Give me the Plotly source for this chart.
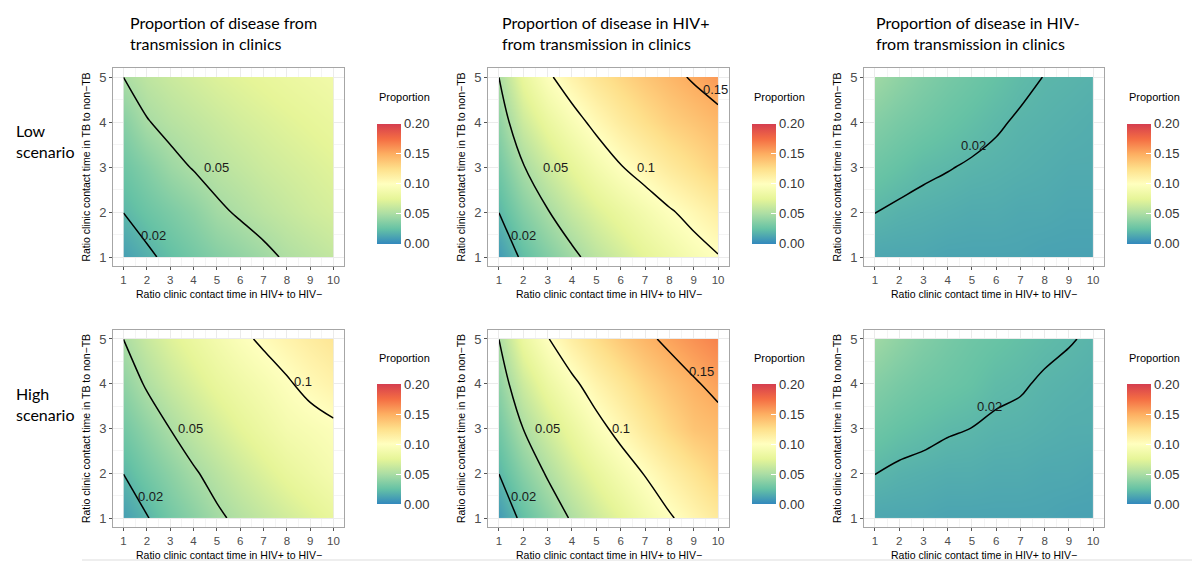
import plotly.graph_objects as go

# ---------------- data ----------------
x_vals = [1, 2, 3, 4, 5, 6, 7, 8, 9, 10]   # Ratio clinic contact time in HIV+ to HIV-
y_vals = [1, 2, 3, 4, 5]                    # Ratio clinic contact time in TB to non-TB

# rows: y = 1..5 ; columns: x = 1..10
low_all = [
    [0.010, 0.017, 0.024, 0.030, 0.036, 0.041, 0.046, 0.052, 0.056, 0.060],
    [0.0202, 0.027, 0.033, 0.039, 0.047, 0.052, 0.057, 0.061, 0.065, 0.068],
    [0.028, 0.036, 0.045, 0.051, 0.056, 0.060, 0.064, 0.067, 0.070, 0.073],
    [0.037, 0.049, 0.055, 0.059, 0.063, 0.067, 0.070, 0.073, 0.076, 0.079],
    [0.0501, 0.058, 0.063, 0.067, 0.071, 0.074, 0.077, 0.080, 0.083, 0.086],
]
low_hivpos = [
    [0.008, 0.023, 0.035, 0.046, 0.057, 0.066, 0.075, 0.083, 0.092, 0.099],
    [0.0202, 0.036, 0.049, 0.061, 0.071, 0.080, 0.089, 0.098, 0.106, 0.114],
    [0.030, 0.049, 0.064, 0.076, 0.088, 0.099, 0.108, 0.117, 0.125, 0.133],
    [0.040, 0.064, 0.080, 0.093, 0.105, 0.116, 0.125, 0.133, 0.139, 0.145],
    [0.0501, 0.078, 0.097, 0.110, 0.121, 0.130, 0.138, 0.145, 0.152, 0.158],
]
low_hivneg = [
    [0.013, 0.013, 0.013, 0.012, 0.012, 0.012, 0.012, 0.011, 0.011, 0.011],
    [0.0202, 0.018, 0.017, 0.016, 0.015, 0.015, 0.014, 0.014, 0.013, 0.013],
    [0.028, 0.025, 0.022, 0.0205, 0.019, 0.018, 0.017, 0.016, 0.015, 0.015],
    [0.036, 0.032, 0.029, 0.026, 0.0235, 0.021, 0.019, 0.018, 0.017, 0.016],
    [0.046, 0.040, 0.035, 0.031, 0.028, 0.025, 0.022, 0.0198, 0.019, 0.018],
]
high_all = [
    [0.010, 0.019, 0.030, 0.038, 0.047, 0.054, 0.060, 0.066, 0.072, 0.078],
    [0.0202, 0.030, 0.039, 0.048, 0.056, 0.064, 0.071, 0.078, 0.084, 0.090],
    [0.030, 0.040, 0.0502, 0.059, 0.067, 0.075, 0.082, 0.089, 0.093, 0.097],
    [0.040, 0.052, 0.062, 0.070, 0.078, 0.085, 0.091, 0.098, 0.105, 0.110],
    [0.0501, 0.062, 0.072, 0.080, 0.088, 0.096, 0.103, 0.109, 0.115, 0.120],
]
high_hivpos = [
    [0.008, 0.024, 0.038, 0.052, 0.064, 0.075, 0.087, 0.098, 0.108, 0.117],
    [0.0202, 0.037, 0.052, 0.066, 0.078, 0.090, 0.101, 0.112, 0.122, 0.132],
    [0.030, 0.0502, 0.066, 0.080, 0.094, 0.106, 0.118, 0.129, 0.139, 0.143],
    [0.040, 0.064, 0.082, 0.096, 0.109, 0.120, 0.131, 0.140, 0.148, 0.155],
    [0.0501, 0.080, 0.099, 0.114, 0.126, 0.137, 0.146, 0.154, 0.161, 0.167],
]
high_hivneg = [
    [0.013, 0.013, 0.013, 0.012, 0.012, 0.012, 0.012, 0.012, 0.011, 0.011],
    [0.0202, 0.018, 0.017, 0.016, 0.016, 0.015, 0.015, 0.014, 0.014, 0.013],
    [0.028, 0.025, 0.023, 0.021, 0.0199, 0.0185, 0.018, 0.017, 0.016, 0.016],
    [0.036, 0.032, 0.029, 0.027, 0.025, 0.022, 0.0208, 0.019, 0.018, 0.017],
    [0.046, 0.040, 0.035, 0.031, 0.028, 0.026, 0.024, 0.022, 0.0205, 0.019],
]

# contour-label anchors (x, y, label)
labels_low_all = [(2.3, 1.47, "0.02"), (4.98, 2.98, "0.05")]
labels_low_hivpos = [(2.01, 1.48, "0.02"), (3.32, 2.98, "0.05"), (7.03, 3.0, "0.1"), (9.9, 4.72, "0.15")]
labels_low_hivneg = [(5.08, 3.48, "0.02")]
labels_high_all = [(2.14, 1.48, "0.02"), (3.87, 3.0, "0.05"), (8.7, 4.06, "0.1")]
labels_high_hivpos = [(1.99, 1.48, "0.02"), (3.01, 3.0, "0.05"), (6.03, 3.0, "0.1"), (9.32, 4.27, "0.15")]
labels_high_hivneg = [(5.71, 3.5, "0.02")]

col_titles = [
    "Proportion of disease from<br>transmission in clinics",
    "Proportion of disease in HIV+<br>from transmission in clinics",
    "Proportion of disease in HIV-<br>from transmission in clinics",
]
row_titles = ["Low<br>scenario", "High<br>scenario"]
x_title = "Ratio clinic contact time in HIV+ to HIV−"
y_title = "Ratio clinic contact time in TB to non−TB"
legend_title = "Proportion"
cb_ticks = [0.0, 0.05, 0.10, 0.15, 0.20]
cb_ticktext = ["0.00", "0.05", "0.10", "0.15", "0.20"]

grids = [[low_all, low_hivpos, low_hivneg], [high_all, high_hivpos, high_hivneg]]
label_sets = [[labels_low_all, labels_low_hivpos, labels_low_hivneg],
              [labels_high_all, labels_high_hivpos, labels_high_hivneg]]

# ---------------- styling / layout ----------------
W, H = 1192, 561
spectral9_r = ["#3288BD", "#66C2A5", "#ABDDA4", "#E6F598", "#FFFFBF",
               "#FEE08B", "#FDAE61", "#F46D43", "#D53E4F"]
colorscale = [[i / (len(spectral9_r) - 1), col] for i, col in enumerate(spectral9_r)]
col_left = [113, 488, 864]
col_right = [344, 729, 1104]
row_top = [68, 330]
row_bot = [266, 527]
xtitle_y = [294, 554.5]
cb_left = [377, 752, 1127]
cb_center = [183.5, 444]
cb_title_y = [97, 358]
title_x = [128, 500, 874]
AX_FONT = "Liberation Sans, Arial, sans-serif"
TXT_FONT = "Lato, Open Sans, sans-serif"

fig = go.Figure()
annotations = []
for r in range(2):
    for c in range(3):
        k = r * 3 + c + 1
        xa = "x" if k == 1 else f"x{k}"
        ya = "y" if k == 1 else f"y{k}"
        z = grids[r][c]
        fig.add_trace(go.Contour(
            x=x_vals, y=y_vals, z=z, xaxis=xa, yaxis=ya,
            colorscale=colorscale, zmin=0, zmax=0.2,
            contours=dict(coloring="heatmap", showlines=False, start=0.0, end=0.2, size=0.2),
            line=dict(width=0),
            hoverinfo="skip",
            colorbar=dict(
                x=cb_left[c] / W, xanchor="left", y=1 - cb_center[r] / H, yanchor="middle",
                len=120, lenmode="pixels", thickness=24, thicknessmode="pixels",
                outlinewidth=0, xpad=0, ypad=0,
                tickvals=cb_ticks, ticktext=cb_ticktext,
                ticks="inside", tickcolor="white", ticklen=5,
                tickfont=dict(family=AX_FONT, size=13, color="#333333"),
            ),
        ))
        for (s, e) in [(0.05, 0.15), (0.02, 0.02)]:
            fig.add_trace(go.Contour(
                x=x_vals, y=y_vals, z=z, xaxis=xa, yaxis=ya,
                showscale=False, hoverinfo="skip",
                contours=dict(coloring="none", start=s, end=e, size=0.05, showlabels=False),
                line=dict(color="black", width=1.5),
            ))
        for (lx, ly, lt) in label_sets[r][c]:
            annotations.append(dict(
                text=lt, x=lx, y=ly, xref=xa, yref=ya, showarrow=False,
                font=dict(family=AX_FONT, size=13, color="#1a1a1a")))
        annotations.append(dict(
            text=x_title, x=(col_left[c] + col_right[c]) / 2 / W, y=1 - xtitle_y[r] / H,
            xref="paper", yref="paper", xanchor="center", yanchor="middle", showarrow=False,
            font=dict(family=AX_FONT, size=10.5, color="black")))
        axis_common = dict(
            showgrid=True, gridcolor="#EBEBEB", gridwidth=1,
            showline=True, linecolor="#A6A6A6", linewidth=1, mirror=True,
            ticks="outside", ticklen=3, tickcolor="#555555", zeroline=False,
            ticklabelstandoff=0,
        )
        fig.update_layout(**{
            ("xaxis" if k == 1 else f"xaxis{k}"): dict(
                domain=[col_left[c] / W, col_right[c] / W], anchor=ya,
                range=[0.55, 10.45], tickvals=x_vals,
                minor=dict(tick0=0.5, dtick=1, showgrid=True, gridcolor="#F4F4F4", ticks=""),
                tickfont=dict(family=AX_FONT, size=11.5, color="#4D4D4D"),
                **axis_common),
            ("yaxis" if k == 1 else f"yaxis{k}"): dict(
                domain=[1 - row_bot[r] / H, 1 - row_top[r] / H], anchor=xa,
                range=[0.8, 5.2], tickvals=y_vals,
                minor=dict(tick0=0.5, dtick=1, showgrid=True, gridcolor="#F4F4F4", ticks=""),
                tickfont=dict(family=AX_FONT, size=13, color="#4D4D4D"),
                title=dict(text=y_title, font=dict(family=AX_FONT, size=10.5, color="black"), standoff=6),
                **axis_common),
        })

for c in range(3):
    annotations.append(dict(
        text=col_titles[c], x=title_x[c] / W, y=1 - 32.5 / H, xref="paper", yref="paper",
        xanchor="left", yanchor="middle", align="left", showarrow=False,
        font=dict(family=TXT_FONT, size=16, color="black")))
for r, yy in enumerate([141, 404]):
    annotations.append(dict(
        text=row_titles[r], x=14 / W, y=1 - yy / H, xref="paper", yref="paper",
        xanchor="left", yanchor="middle", align="left", showarrow=False,
        font=dict(family=TXT_FONT, size=16, color="black")))
for r in range(2):
    for c in range(3):
        annotations.append(dict(
            text=legend_title, x=cb_left[c] / W, y=1 - cb_title_y[r] / H,
            xref="paper", yref="paper", xanchor="left", yanchor="middle",
            showarrow=False, font=dict(family=AX_FONT, size=11, color="black")))

fig.update_layout(
    width=W, height=H, margin=dict(l=0, r=0, t=0, b=0, autoexpand=False),
    paper_bgcolor="white", plot_bgcolor="white",
    showlegend=False, annotations=annotations,
    shapes=[dict(type="line", xref="paper", yref="paper", x0=82 / W, x1=1, y0=1 - 560 / H,
                 y1=1 - 560 / H, line=dict(color="#DDDDDD", width=1))],
)

fig.write_html("out.html", config={"displayModeBar": False},
               post_script="document.body.style.margin='0';document.body.style.overflow='hidden';")
